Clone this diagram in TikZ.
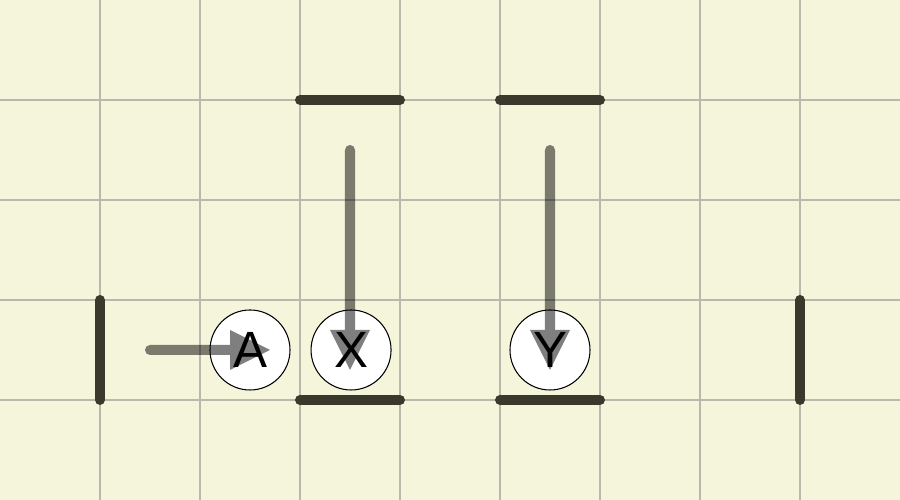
\documentclass[tikz,border=0pt]{standalone}
\usepackage{fontspec}
\setsansfont{Liberation Sans}
\usetikzlibrary{arrows.meta,positioning}
\definecolor{floor}{HTML}{F5F5DC}
\definecolor{gridline}{HTML}{B8B8AC}
\definecolor{wallcol}{HTML}{3A3A2C}
\tikzset{
    >={Triangle[length=4mm,width=4mm,line width=0pt]},
    cell/.style={draw=gridline, line width=0.6pt},
    wall/.style={draw=wallcol, line width=2.85pt, line cap=round},
    agent/.style={
        circle,
        draw=black, line width=0.3pt,
        fill=white,
        minimum size=8mm,
        inner sep=0pt,
        font=\sffamily\fontsize{14.5}{16}\selectfont
    },
    move/.style={draw=black, line width=2.85pt, line cap=round, ->}
}
\begin{document}
\begin{tikzpicture}
    \fill[floor] (0,0) rectangle (9,5);
    \useasboundingbox (0,0) rectangle (9,5);
    % grid
    \foreach \x in {1,...,8} \draw[cell] (\x,0) -- (\x,5);
    \foreach \y in {1,...,4} \draw[cell] (0,\y) -- (9,\y);
    % walls
    \draw[wall] (3,4) -- (4,4);
    \draw[wall] (5,4) -- (6,4);
    \draw[wall] (3,1) -- (4,1);
    \draw[wall] (5,1) -- (6,1);
    \draw[wall] (1,1) -- (1,2);
    \draw[wall] (8,1) -- (8,2);
    % agents
    \node[agent] (A) at (2.5,1.5) {A};
    \node[agent, right=2mm of A] (X) {X};
    \node[agent] (Y) at (5.5,1.5) {Y};
    % moves
    \coordinate (a0) at (1.5,1.5);
    \coordinate (a1) at (2.7,1.5);
    \coordinate (x0) at (3.5,3.5);
    \coordinate (x1) at (3.5,1.3);
    \coordinate (y0) at (5.5,3.5);
    \coordinate (y1) at (5.5,1.3);
    \begin{scope}[opacity=0.5, transparency group]
        \draw[move] (a0) -- (a1);
        \draw[move] (x0) -- (x1);
        \draw[move] (y0) -- (y1);
    \end{scope}
\end{tikzpicture}
\end{document}
